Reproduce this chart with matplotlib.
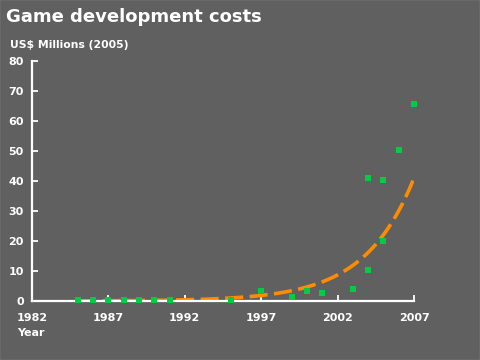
import numpy as np
import matplotlib
matplotlib.use('Agg')
import matplotlib.pyplot as plt
from matplotlib.patches import Rectangle

# data (US$ millions, 2005 dollars)
years = [1985, 1986, 1987, 1988, 1989, 1990, 1991, 1995, 1997, 1999,
         2000, 2001, 2003, 2004, 2004, 2005, 2005, 2006, 2007]
costs = [0.2, 0.2, 0.2, 0.3, 0.3, 0.3, 0.3, 0.3, 3.4, 1.4,
         3.2, 2.8, 4.1, 10.3, 41.1, 40.3, 20.1, 50.2, 65.6]

# exponential trend line as it appears in the chart
trend_start = 1985
trend_end = 2007
trend_value_end = 41.0   # value of trend at 2007
trend_rate = 0.31        # growth per year

x_ticks = [1982, 1987, 1992, 1997, 2002, 2007]
y_ticks = [0, 10, 20, 30, 40, 50, 60, 70, 80]

bg = '#606060'
green = '#00cc44'
orange = '#ff8c00'

fig = plt.figure(figsize=(4.8, 3.6), dpi=100, facecolor=bg)
ax = fig.add_axes([0.0667, 0.1639, 0.7958, 0.6667], facecolor=bg)

tx = np.linspace(trend_start, trend_end, 200)
ty = trend_value_end * np.exp(trend_rate * (tx - trend_end))
ax.plot(tx, ty, color=orange, lw=2.6, dashes=(5, 1.8), zorder=2)
ax.scatter(years, costs, marker='s', s=24, color=green, linewidths=0, zorder=3)

ax.set_xlim(1982, 2007)
ax.set_ylim(0, 80)
ax.set_xticks(x_ticks)
ax.set_yticks(y_ticks)
for s in ['top', 'right']:
    ax.spines[s].set_visible(False)
for s in ['left', 'bottom']:
    ax.spines[s].set_color('white')
    ax.spines[s].set_linewidth(1.6)
ax.tick_params(direction='in', length=4, width=1.3, color='white',
               labelcolor='white', labelsize=8)
ax.tick_params(axis='x', pad=9)
ax.tick_params(axis='y', pad=6)
for lab in ax.get_xticklabels() + ax.get_yticklabels():
    lab.set_fontweight('bold')
for c in ax.collections:
    c.set_clip_on(False)

fig.text(0.012, 0.952, 'Game development costs', color='white',
         fontsize=13, fontweight='heavy', va='center', ha='left')
fig.text(0.021, 0.875, 'US$ Millions (2005)', color='white',
         fontsize=7.8, fontweight='bold', va='center', ha='left')
fig.text(0.036, 0.075, 'Year', color='white',
         fontsize=8, fontweight='bold', va='center', ha='left')

# faint lighter frame at the outer edge
fig.patches.append(Rectangle((0, 0), 1, 1, transform=fig.transFigure,
                             fill=False, edgecolor='#6c6c6c', lw=1.2))

fig.savefig('out.png', dpi=100, facecolor=bg)
